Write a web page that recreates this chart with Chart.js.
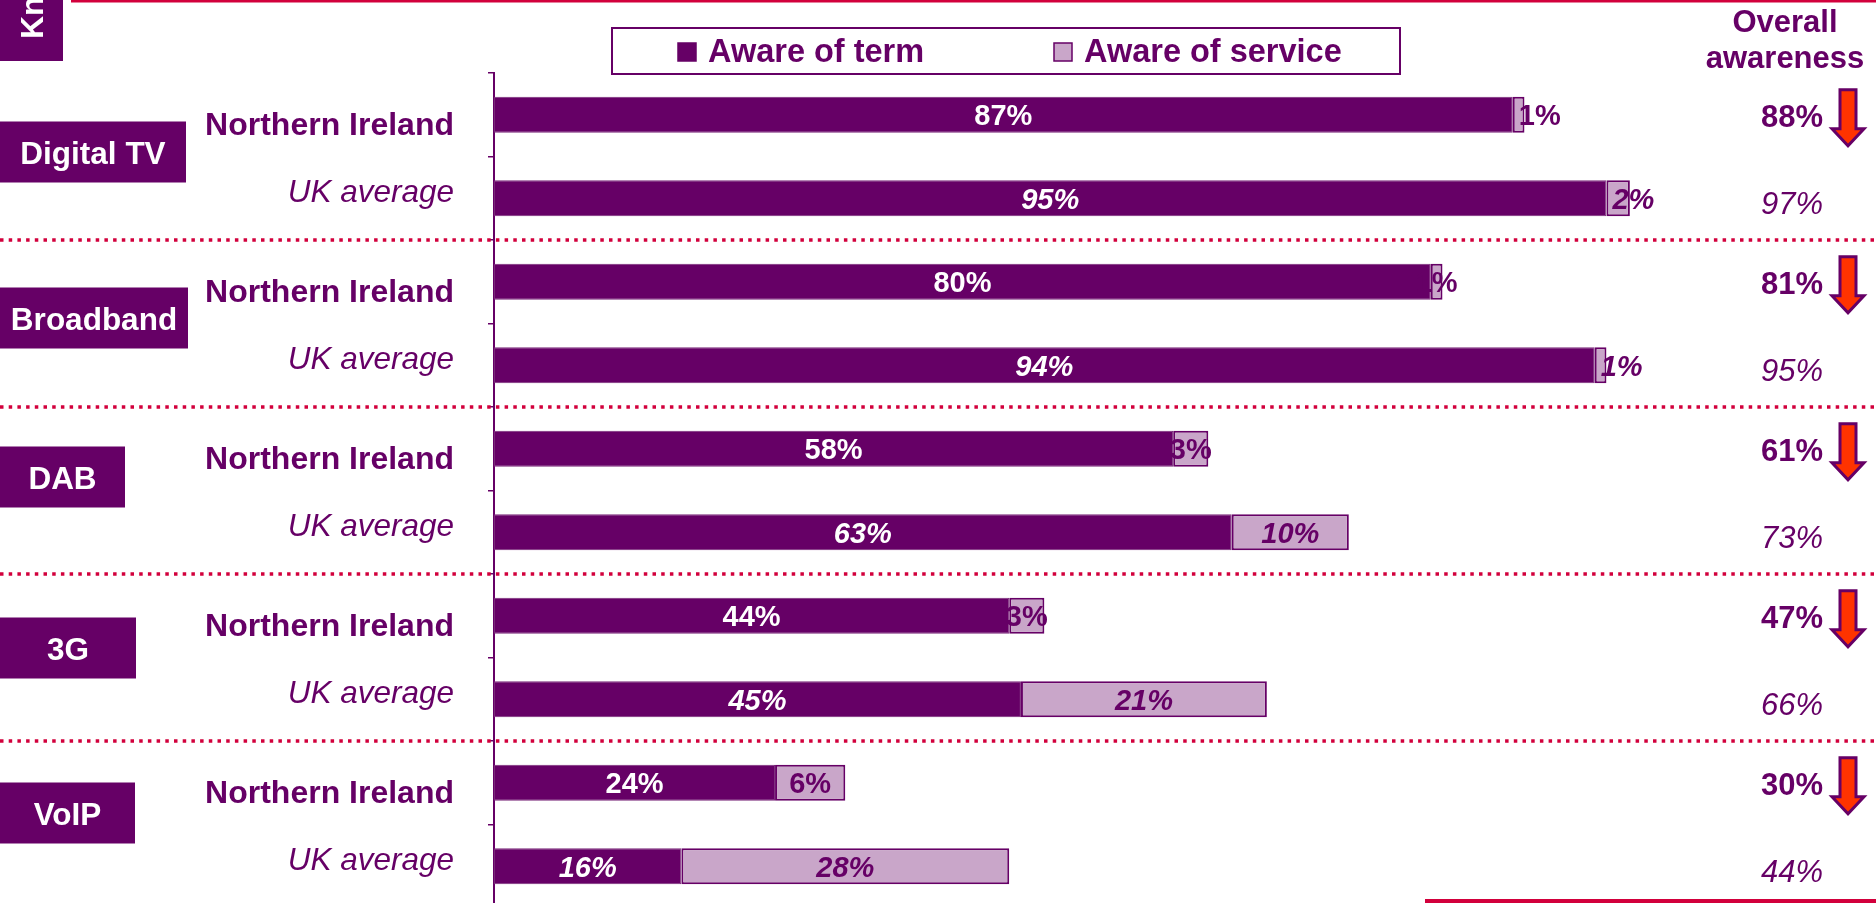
<!DOCTYPE html>
<html><head><meta charset="utf-8">
<script src="https://cdn.jsdelivr.net/npm/chart.js@4/dist/chart.umd.min.js"></script>
<style>html,body{margin:0;padding:0;background:#fff;overflow:hidden;width:1876px;height:903px}canvas{display:block}</style>
</head><body><canvas id="c" width="1876" height="910"></canvas>
<script>
// ---- data ----
const groups = ['Digital TV', 'Broadband', 'DAB', '3G', 'VoIP'];
const rowLabels = ['Northern Ireland', 'UK average'];
const awareOfTerm = [87, 95, 80, 94, 58, 63, 44, 45, 24, 16];
const awareOfService = [1, 2, 1, 1, 3, 10, 3, 21, 6, 28];
const overallAwareness = [88, 97, 81, 95, 61, 73, 47, 66, 30, 44];
const seriesNames = ['Aware of term', 'Aware of service'];
const headerLines = ['Overall', 'awareness'];
const cornerLabel = 'Knowledge';

// ---- style / layout ----
const FF = '"Liberation Sans", Arial, sans-serif';
const PURPLE = '#660066';
const LIGHT = '#C9A6C9';
const RED = '#D2003C';
const ARROW = '#FF3300';
const boxWidths = [186, 188, 125, 136, 135];
const boxTopOffsets = [-35, -36, -44, -40, -42];

const categories = groups.flatMap(g => rowLabels.map(r => g + ' ' + r));

const deco = {
  id: 'deco',
  afterDatasetsDraw(chart) {
    const ctx = chart.ctx;
    ctx.save();
    chart.data.datasets.forEach((ds, di) => {
      const meta = chart.getDatasetMeta(di);
      meta.data.forEach((el, i) => {
        const uk = i % 2 === 1;
        const w = Math.abs(el.x - el.base);
        ctx.font = (uk ? 'italic ' : '') + 'bold 29px ' + FF;
        ctx.fillStyle = di === 0 ? '#ffffff' : PURPLE;
        ctx.textBaseline = 'alphabetic';
        const txt = ds.data[i] + '%';
        if (di === 1 && w < 25 && i !== 2) {
          ctx.textAlign = 'left';
          ctx.fillText(txt, el.base + 6, el.y + 10.5);
        } else {
          ctx.textAlign = 'center';
          ctx.fillText(txt, (el.x + el.base) / 2, el.y + 10.5);
        }
      });
    });
    ctx.restore();
  },
  afterDraw(chart) {
    const ctx = chart.ctx;
    const ys = chart.scales.y;
    const W = chart.width;
    ctx.save();
    // top red line
    ctx.fillStyle = RED;
    ctx.fillRect(71, 0, W - 71, 2.5);
    // bottom red line
    ctx.fillRect(1425, 899, W - 1425, 4);
    // corner box
    ctx.fillStyle = PURPLE;
    ctx.fillRect(0, 0, 63, 61);
    ctx.save();
    ctx.beginPath(); ctx.rect(0, 0, 63, 61); ctx.clip();
    ctx.translate(43, 39);
    ctx.rotate(-Math.PI / 2);
    ctx.fillStyle = '#fff';
    ctx.font = 'bold 32px ' + FF;
    ctx.textAlign = 'left';
    ctx.textBaseline = 'alphabetic';
    ctx.fillText(cornerLabel, 0, 0);
    ctx.restore();

    // dotted separators
    ctx.strokeStyle = RED;
    ctx.lineWidth = 3.5;
    ctx.setLineDash([3.5, 5.2]);
    for (let g = 0; g < groups.length - 1; g++) {
      const y = Math.round((ys.getPixelForValue(2 * g + 1) + ys.getPixelForValue(2 * g + 2)) / 2);
      ctx.beginPath(); ctx.moveTo(0, y); ctx.lineTo(W, y); ctx.stroke();
    }
    ctx.setLineDash([]);

    // group boxes
    groups.forEach((g, gi) => {
      const mid = (ys.getPixelForValue(2 * gi) + ys.getPixelForValue(2 * gi + 1)) / 2;
      const top = mid + boxTopOffsets[gi];
      ctx.fillStyle = PURPLE;
      ctx.fillRect(0, top, boxWidths[gi], 61);
      ctx.fillStyle = '#fff';
      ctx.font = 'bold 31.5px ' + FF;
      ctx.textAlign = 'center';
      ctx.fillText(g, boxWidths[gi] / 2, top + 30.5 + 11.5);
    });

    // row labels + overall awareness + arrows
    categories.forEach((c, i) => {
      const y = ys.getPixelForValue(i);
      const uk = i % 2 === 1;
      ctx.fillStyle = PURPLE;
      ctx.textAlign = 'right';
      ctx.font = (uk ? 'italic 31.5px ' : 'bold 32px ') + FF;
      ctx.fillText(rowLabels[i % 2], 454, y + (uk ? 3.5 : 20));
      ctx.font = (uk ? 'italic 31px ' : 'bold 31px ') + FF;
      ctx.fillText(overallAwareness[i] + '%', 1823, y + (uk ? 16 : 12));
      if (!uk) {
        ctx.beginPath();
        ctx.moveTo(1840, y - 25);
        ctx.lineTo(1856, y - 25);
        ctx.lineTo(1856, y + 14);
        ctx.lineTo(1864, y + 14);
        ctx.lineTo(1848, y + 31);
        ctx.lineTo(1832, y + 14);
        ctx.lineTo(1840, y + 14);
        ctx.closePath();
        ctx.fillStyle = ARROW;
        ctx.fill();
        ctx.strokeStyle = PURPLE;
        ctx.lineWidth = 3;
        ctx.lineJoin = 'miter';
        ctx.stroke();
      }
    });

    // header
    ctx.fillStyle = PURPLE;
    ctx.font = 'bold 31px ' + FF;
    ctx.textAlign = 'center';
    ctx.fillText(headerLines[0], 1785, 32);
    ctx.fillText(headerLines[1], 1785, 68);

    // legend
    ctx.strokeStyle = PURPLE;
    ctx.lineWidth = 2;
    ctx.strokeRect(612, 28, 788, 46);
    const legX = [678, 1054];
    chart.data.datasets.forEach((ds, di) => {
      ctx.fillStyle = ds.backgroundColor;
      ctx.fillRect(legX[di], 43, 18, 18);
      ctx.strokeStyle = PURPLE;
      ctx.lineWidth = 1.5;
      ctx.strokeRect(legX[di], 43, 18, 18);
      ctx.fillStyle = PURPLE;
      ctx.font = 'bold 32.5px ' + FF;
      ctx.textAlign = 'left';
      ctx.fillText(ds.label, legX[di] + 30, 62);
    });
    ctx.restore();
  }
};

new Chart(document.getElementById('c'), {
  type: 'bar',
  data: {
    labels: categories,
    datasets: [
      { label: seriesNames[0], data: awareOfTerm, backgroundColor: PURPLE, borderColor: '#7a2a7a', borderWidth: 1, borderSkipped: false },
      { label: seriesNames[1], data: awareOfService, backgroundColor: LIGHT, borderColor: PURPLE, borderWidth: 2, borderSkipped: false }
    ]
  },
  options: {
    indexAxis: 'y',
    responsive: false,
    animation: false,
    devicePixelRatio: 1,
    categoryPercentage: 1,
    barPercentage: 0.43,
    layout: { padding: { left: 488, right: 211, top: 73, bottom: 2 } },
    plugins: { legend: { display: false }, tooltip: { enabled: false } },
    scales: {
      x: { stacked: true, min: 0, max: 100, display: false },
      y: {
        stacked: true,
        ticks: { display: false },
        grid: { drawOnChartArea: false, drawTicks: true, tickLength: 6, color: PURPLE, lineWidth: 1.5 },
        border: { display: true, color: PURPLE, width: 2 },
        afterFit: s => { s.width = 6; }
      }
    }
  },
  plugins: [deco]
});
</script>
</body></html>
